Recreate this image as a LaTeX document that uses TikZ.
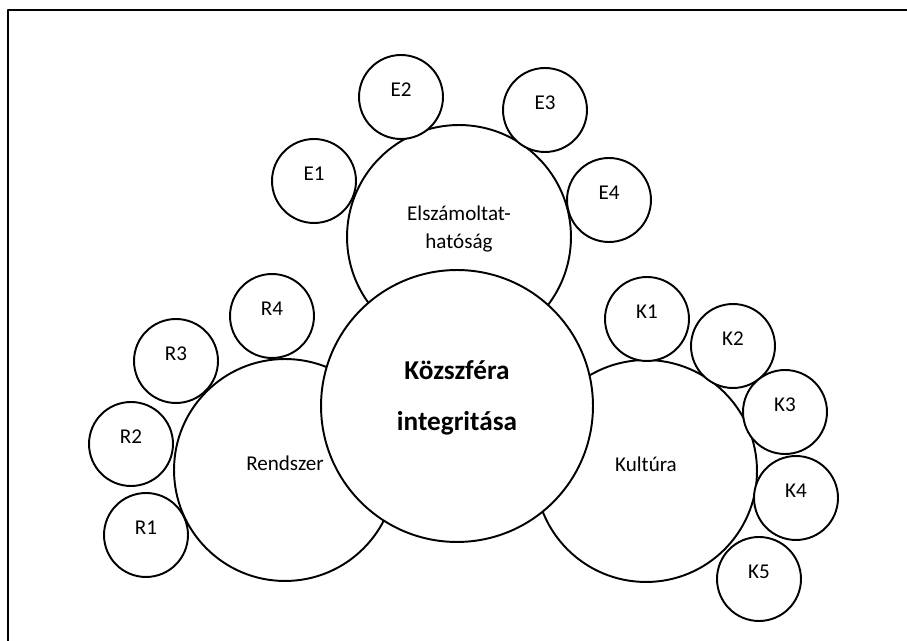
\documentclass[tikz,border=0pt]{standalone}
\usepackage{fontspec}
\setmainfont{Carlito}
\tikzset{
  kor/.style={circle,draw,fill=white,line width=1.1pt,inner sep=0pt,outer sep=0pt},
  kiskor/.style={kor,minimum size=1.68cm},
  cimke/.style={font=\fontsize{12}{15.5}\selectfont,align=center,inner sep=0pt}
}
\begin{document}
\begin{tikzpicture}[line join=round, line cap=round, x=0.02cm, y=-0.02cm]
				\useasboundingbox (0,0) rectangle (907,641);
				\draw[line width=1.2pt] (8,641)--(8,10)--(907,10);
				% harom nagy kor
				\node[kor,minimum size=4.48cm] (E) at (459,237) {};
				\node[kor,minimum size=4.44cm] (R) at (285,470) {};
				\node[kor,minimum size=4.44cm] (K) at (646,471) {};
				% kis korok
				\foreach \n/\x/\y in {E1/314/181,E2/401/97,E3/545/110,E4/609/200,
					R4/272/316,R3/176/361,R2/131/444,R1/146/535,
					K1/647/319,K2/733/346,K3/785/412,K4/796/498,K5/759/579}{
					\node[kiskor] (\n) at (\x,\y) {};
					\node[cimke] (\n-t) at ([yshift=0.15cm]\n.center) {\n};
				}
				% kozepso kor
				\node[kor,minimum size=5.44cm] (KI) at (457,406) {};
				\node[cimke] (E-t) at ([yshift=0.16cm]E.center) {Elszámoltat-\\hatóság};
				\node[cimke] (R-t) at ([yshift=0.14cm]R.center) {Rendszer};
				\node[cimke] (K-t) at ([yshift=0.14cm]K.center) {Kultúra};
				\node[cimke,font=\fontsize{15.5}{29}\selectfont\bfseries] (KI-t) at ([yshift=0.17cm]KI.center) {Közszféra\\integritása};
			\end{tikzpicture}
\end{document}
